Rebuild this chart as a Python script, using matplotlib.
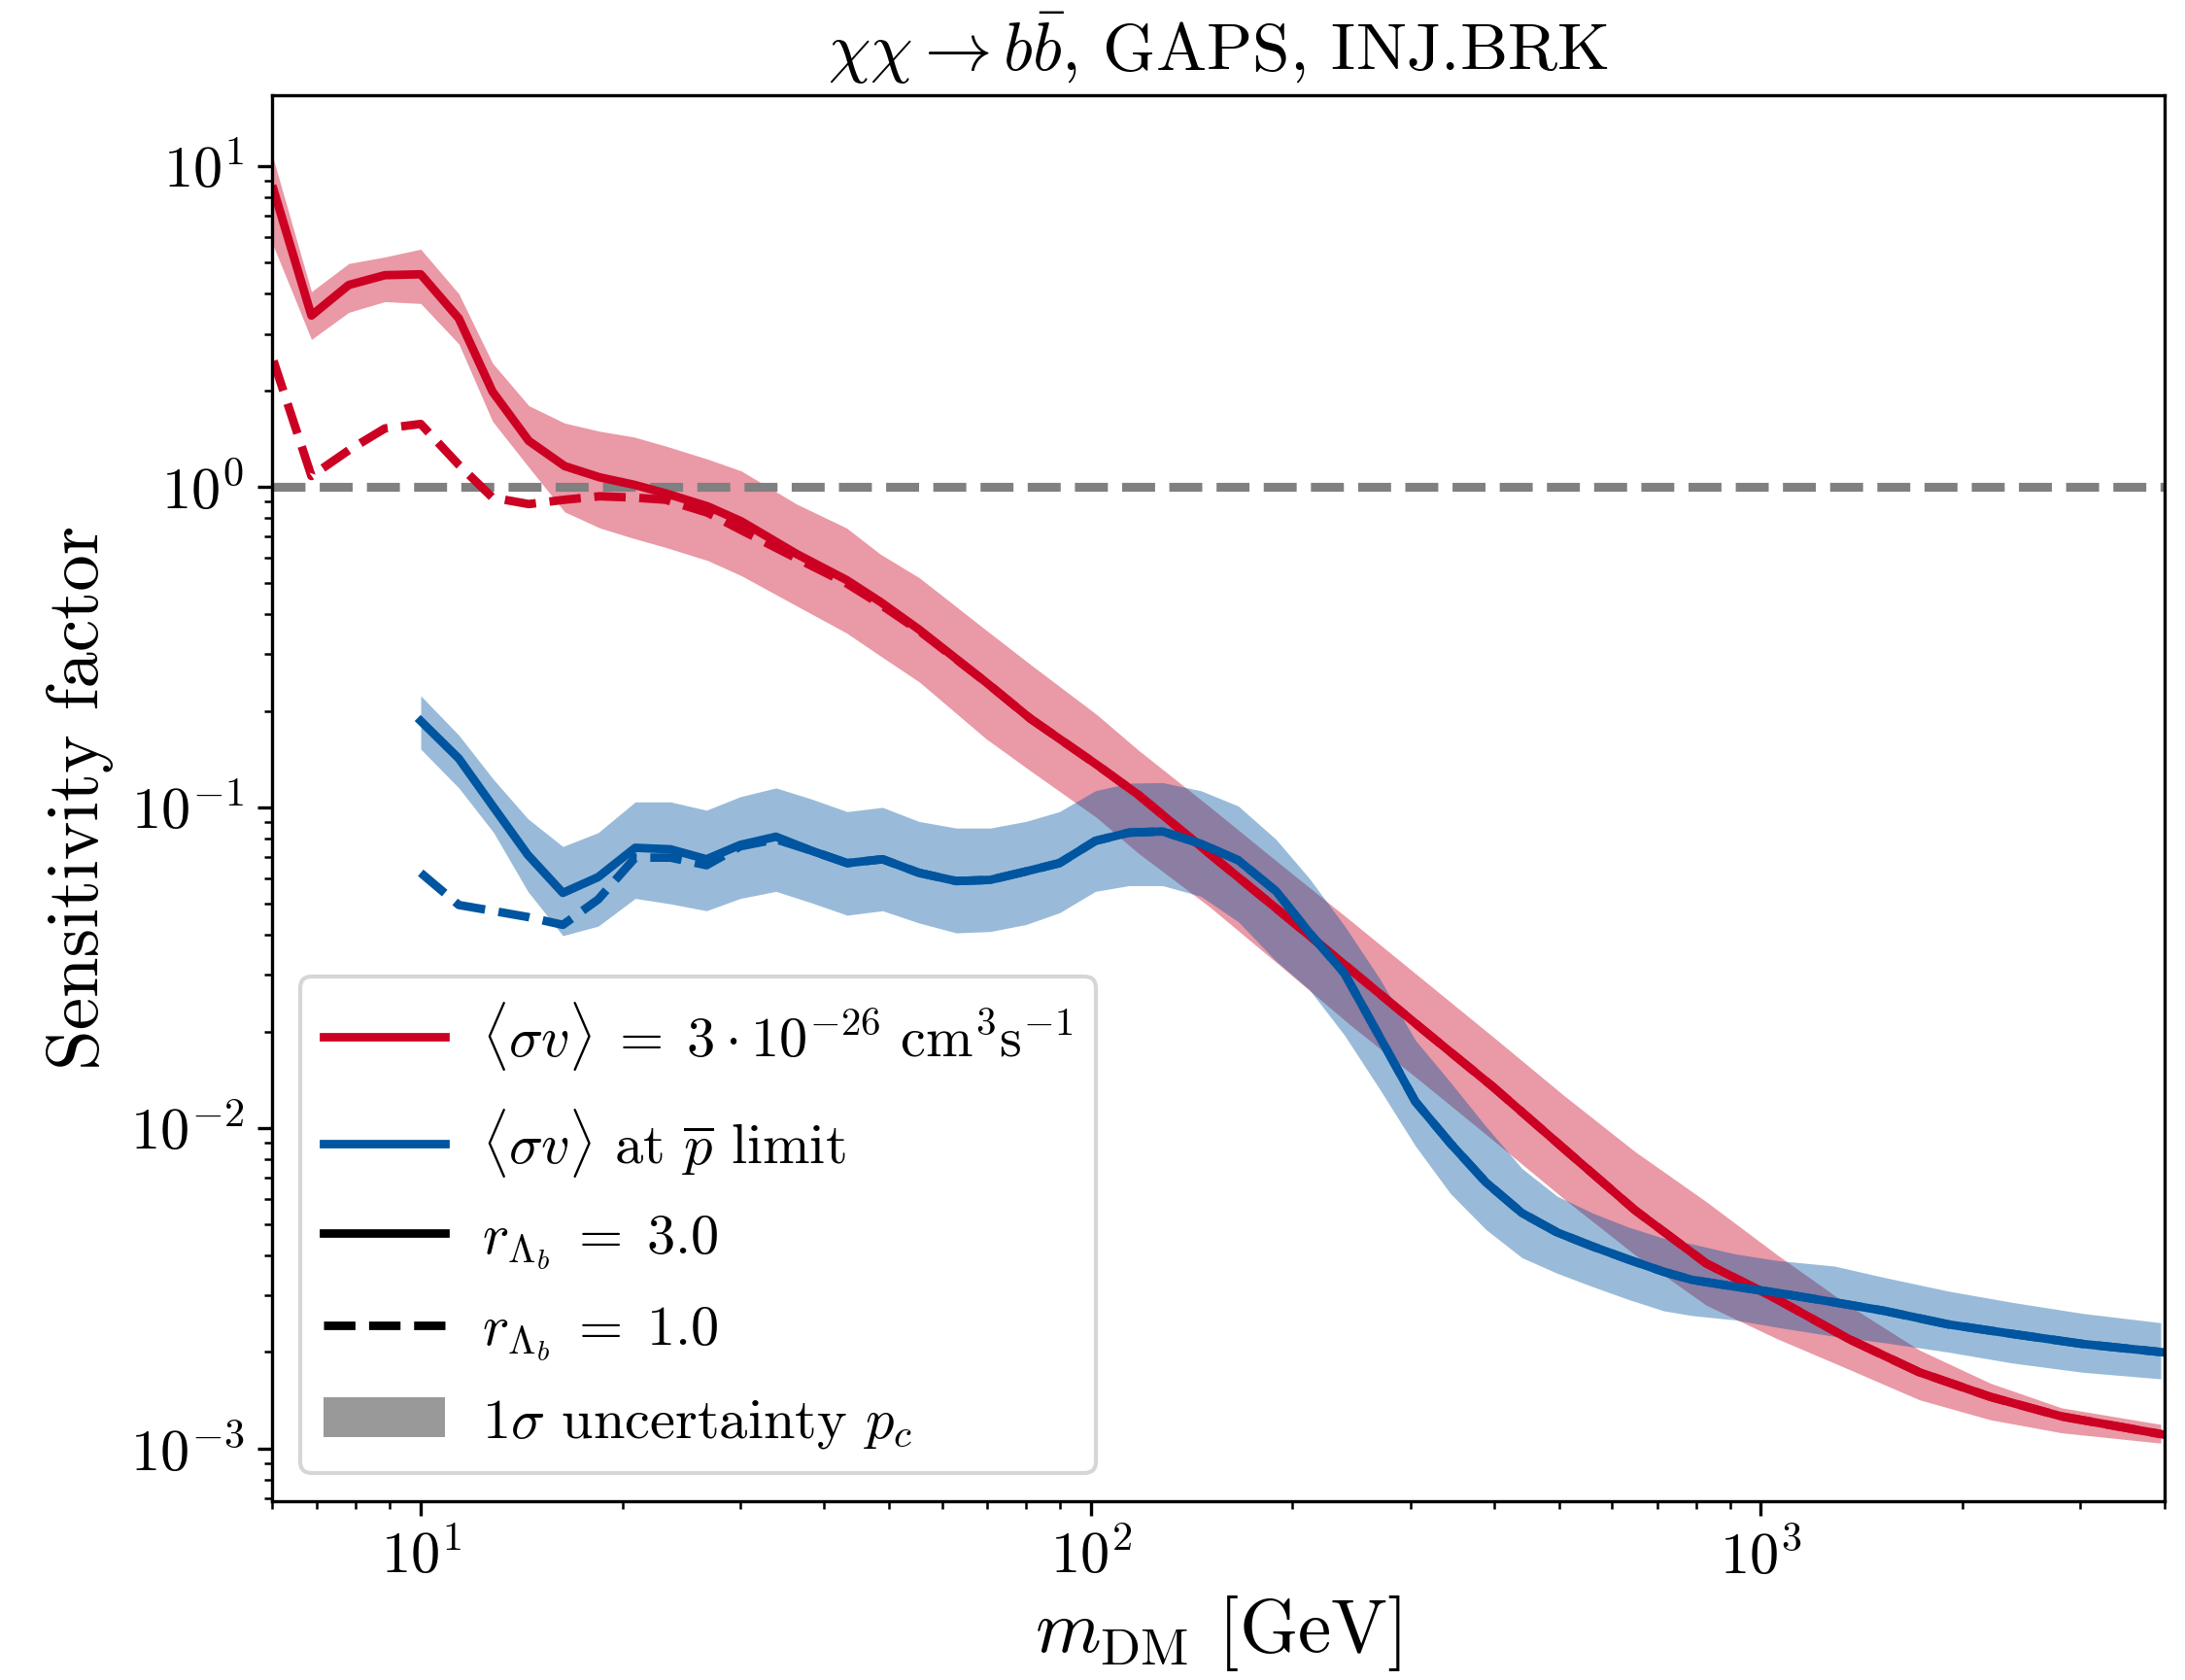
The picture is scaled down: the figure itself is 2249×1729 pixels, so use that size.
import numpy as np
import matplotlib
matplotlib.use("Agg")
import matplotlib.pyplot as plt
from matplotlib.lines import Line2D
from matplotlib.patches import Patch

plt.rcParams['font.family'] = 'serif'
plt.rcParams['font.serif'] = ['cmr10']
plt.rcParams['mathtext.fontset'] = 'cm'
plt.rcParams['axes.formatter.use_mathtext'] = True
plt.rcParams['axes.unicode_minus'] = False

# --- datos: m_DM [GeV] y factor de sensibilidad ---
m_red = [6.03, 6.87, 7.81, 8.84, 10, 11.4, 12.8, 14.5, 16.4, 18.5, 20.8, 23.2,
         26.8, 30.1, 36.4, 43.2, 48.5, 55.5, 69.7, 81.3, 102, 117.7, 150, 192,
         245, 312, 399, 509, 649, 829, 1058, 1351, 1724, 2200, 2810, 3952]
red_r3 = [8.45, 3.42, 4.26, 4.57, 4.6, 3.35, 1.98, 1.39, 1.16, 1.07, 1.015, 0.954,
          0.869, 0.78, 0.617, 0.512, 0.438, 0.358, 0.246, 0.189, 0.136, 0.1095, 0.072, 0.0472,
          0.031, 0.0204, 0.0134, 0.0086, 0.00554, 0.00378, 0.00292, 0.0022, 0.00173, 0.00145, 0.00126, 0.00111]
red_hi = [10.5, 4.06, 4.97, 5.21, 5.51, 4.0, 2.43, 1.79, 1.58, 1.49, 1.43, 1.34,
          1.22, 1.12, 0.883, 0.744, 0.617, 0.52, 0.358, 0.279, 0.195, 0.151, 0.101, 0.0664,
          0.0441, 0.0292, 0.0192, 0.0126, 0.00844, 0.00589, 0.00402, 0.0028, 0.00203, 0.0016, 0.00134, 0.00119]
red_lo = [5.63, 2.88, 3.5, 3.78, 3.73, 2.79, 1.6, 1.15, 0.835, 0.744, 0.69, 0.647,
          0.589, 0.528, 0.425, 0.35, 0.297, 0.246, 0.164, 0.13, 0.093, 0.072, 0.0492, 0.032,
          0.0208, 0.0139, 0.00914, 0.006, 0.00402, 0.0028, 0.0022, 0.00177, 0.00142, 0.00123, 0.00112, 0.00104]
red_r1 = [2.47, 1.08, 1.30, 1.52, 1.57, 1.17, 0.925, 0.883, 0.911, 0.934, 0.925, 0.911,
          0.83, 0.732, 0.598, 0.50, 0.43, 0.355, 0.246, 0.189, 0.136, 0.1095, 0.072, 0.0472,
          0.031, 0.0204, 0.0134, 0.0086, 0.00554, 0.00378, 0.00292, 0.0022, 0.00173, 0.00145, 0.00126, 0.00111]

m_blue = [10, 11.4, 12.85, 14.45, 16.3, 18.4, 20.9, 23.6, 26.7, 30.0, 33.9, 38.4,
          43.3, 48.9, 55.4, 63, 70.8, 80, 89.8, 101.6, 114, 128, 146, 166, 189, 212,
          239, 270, 305, 344, 389, 440, 497, 561, 634, 716, 789, 914, 1058, 1287,
          1527, 1903, 2368, 3021, 3952]
blue_r3 = [0.186, 0.142, 0.1, 0.0711, 0.0541, 0.0606, 0.0748, 0.074, 0.0689, 0.0764, 0.081, 0.0731,
           0.067, 0.0689, 0.0625, 0.0589, 0.0594, 0.0631, 0.067, 0.0786, 0.0834, 0.0841, 0.077, 0.0684, 0.0548, 0.0406,
           0.0304, 0.0192, 0.0121, 0.00896, 0.00676, 0.00543, 0.00472, 0.00427, 0.00389, 0.00356, 0.00336, 0.0032, 0.00306, 0.00286,
           0.00269, 0.00244, 0.00228, 0.00212, 0.002]
blue_hi = [0.223, 0.168, 0.122, 0.0922, 0.0755, 0.0834, 0.104, 0.104, 0.098, 0.108, 0.115, 0.106,
           0.097, 0.1, 0.0904, 0.0862, 0.0862, 0.0904, 0.097, 0.1127, 0.119, 0.1195, 0.1127, 0.101, 0.0795, 0.06,
           0.0428, 0.0292, 0.0188, 0.0139, 0.0101, 0.00748, 0.00612, 0.00543, 0.00491, 0.00453, 0.00435, 0.00405, 0.00386, 0.00371,
           0.00342, 0.0031, 0.00286, 0.00264, 0.00247]
blue_lo = [0.152, 0.115, 0.0834, 0.0547, 0.0398, 0.0426, 0.052, 0.05, 0.0476, 0.052, 0.0547, 0.0503,
           0.0461, 0.0476, 0.0436, 0.0406, 0.041, 0.0431, 0.0469, 0.0547, 0.057, 0.057, 0.0528, 0.044, 0.0332, 0.027,
           0.0195, 0.0132, 0.0088, 0.00625, 0.00482, 0.00394, 0.00352, 0.0032, 0.00292, 0.00269, 0.0026, 0.00252, 0.00239, 0.00224,
           0.00214, 0.002, 0.00185, 0.00173, 0.00165]
blue_r1 = [0.0625, 0.0496, 0.0475, 0.0455, 0.043, 0.0516, 0.0697, 0.0697, 0.066, 0.0756, 0.0795, 0.0731,
           0.067, 0.0689, 0.0625, 0.0589, 0.0594, 0.0631, 0.067, 0.0786, 0.0834, 0.0841, 0.077, 0.0684, 0.0548, 0.0406,
           0.0304, 0.0192, 0.0121, 0.00896, 0.00676, 0.00543, 0.00472, 0.00427, 0.00389, 0.00356, 0.00336, 0.0032, 0.00306, 0.00286,
           0.00269, 0.00244, 0.00228, 0.00212, 0.002]

c_red = '#cc0022'
c_blue = '#0055a0'
lw = 2.1

fig = plt.figure(figsize=(2249/300, 1729/300), dpi=300)
ax = fig.add_subplot(111)
fig.subplots_adjust(left=0.1245, right=0.9905, bottom=0.1064, top=0.9436)

ax.fill_between(m_red, red_lo, red_hi, color=c_red, alpha=0.4, lw=0)
ax.fill_between(m_blue, blue_lo, blue_hi, color=c_blue, alpha=0.4, lw=0)
ax.axhline(1.0, color='gray', ls='--', lw=2.2)
ax.plot(m_red, red_r3, color=c_red, lw=lw)
ax.plot(m_red, red_r1, color=c_red, lw=lw, ls='--')
ax.plot(m_blue, blue_r3, color=c_blue, lw=lw)
ax.plot(m_blue, blue_r1, color=c_blue, lw=lw, ls='--')

ax.set_xscale('log')
ax.set_yscale('log')
ax.set_xlim(6, 4000)
ax.set_ylim(6.85e-4, 16.7)
ax.tick_params(labelsize=14.5)

ax.set_xlabel(r'$m_{\rm DM}$ [GeV]', fontsize=18.5, labelpad=2)
ax.set_ylabel('Sensitivity factor', fontsize=18)
ax.set_title(r'$\chi\chi \rightarrow b\bar{b}$, GAPS, INJ.BRK', fontsize=16.7)

handles = [
    Line2D([], [], color=c_red, lw=lw),
    Line2D([], [], color=c_blue, lw=lw),
    Line2D([], [], color='black', lw=lw),
    Line2D([], [], color='black', lw=lw, ls='--'),
    Patch(color='#999999', lw=0),
]
labels = [
    r'$\langle \sigma v \rangle \;=\; 3 \cdot 10^{-26}\ \mathrm{cm}^3\mathrm{s}^{-1}$',
    r'$\langle \sigma v \rangle$ at $\overline{p}$ limit',
    r'$r_{\Lambda_b} \;=\; 3.0$',
    r'$r_{\Lambda_b} \;=\; 1.0$',
    r'$1\sigma$ uncertainty $p_c$',
]
ax.legend(handles, labels, loc='lower left', fontsize=14, handlelength=2.15,
          handletextpad=0.65, labelspacing=0.6)

plt.savefig('out.png', dpi=300)
